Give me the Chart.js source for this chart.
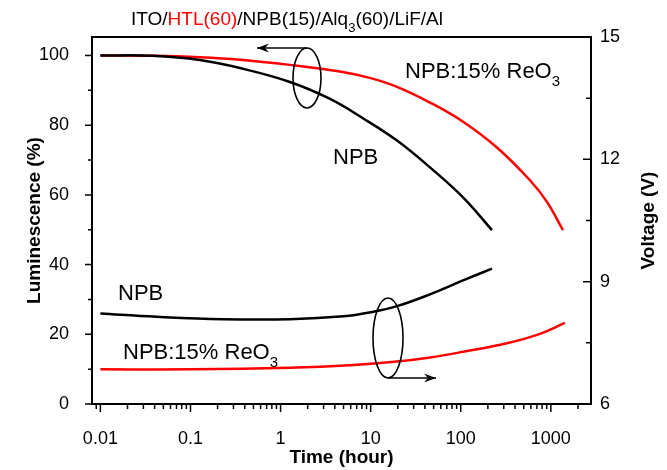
<!DOCTYPE html>
<html>
<head>
<meta charset="utf-8">
<script src="https://cdn.jsdelivr.net/npm/chart.js@4"></script>
<style>
  html, body { margin: 0; background: #fff; }
</style>
</head>
<body>
<canvas id="c" width="667" height="470"></canvas>
<script>
// luminescence (left axis, %) vs time (hour)
const npbLumT  = [0.01, 0.038, 0.127, 0.354, 1.27, 3.5, 8.2, 19.6, 45.5, 106, 222];
const npbLum   = [100, 99.9, 98.7, 96.4, 92.4, 87.6, 82.0, 75.6, 67.9, 59.3, 49.9];
const reoLumT  = [0.01, 0.038, 0.127, 0.354, 1.27, 4.56, 10, 19.6, 45.5, 106, 252, 586, 905, 1362];
const reoLum   = [100, 99.9, 99.5, 98.8, 97.3, 95.4, 93.5, 91.0, 86.5, 81.0, 73.6, 64.2, 58.0, 49.9];

// voltage (right axis, V) vs time (hour)
const npbVoltT = [0.01, 0.042, 0.23, 1.27, 5, 10, 19.6, 45.5, 106, 222];
const npbVolt  = [8.22, 8.14, 8.08, 8.08, 8.15, 8.25, 8.40, 8.69, 9.03, 9.32];
const reoVoltT = [0.01, 0.1, 1.27, 5.9, 19.6, 45.5, 106, 326, 757, 1432];
const reoVolt  = [6.85, 6.85, 6.89, 6.95, 7.04, 7.14, 7.28, 7.49, 7.72, 7.99];

// tick labels
const xTicks     = [0.01, 0.1, 1, 10, 100, 1000];
const lumTicks   = [0, 20, 40, 60, 80, 100];
const lumMinor   = [10, 30, 50, 70, 90];
const voltTicks  = [6, 9, 12, 15];
const voltMinor  = [7.5, 10.5, 13.5];

const FONT = "'Liberation Sans', Arial, sans-serif";
const RED = '#ff0000';

const pts = (xs, ys) => xs.map((x, i) => ({ x, y: ys[i] }));

const lineDs = (label, data, color, axis) => ({
  label, data, borderColor: color, borderWidth: 2.5, pointRadius: 0,
  tension: 0.4, yAxisID: axis, fill: false
});

function arrow(ctx, x0, y0, x1, y1) {
  ctx.beginPath(); ctx.moveTo(x0, y0); ctx.lineTo(x1, y1); ctx.stroke();
  const dir = Math.sign(x1 - x0);
  ctx.beginPath();
  ctx.moveTo(x1, y1);
  ctx.lineTo(x1 - dir * 12, y1 - 4.5);
  ctx.lineTo(x1 - dir * 8, y1);
  ctx.lineTo(x1 - dir * 12, y1 + 4.5);
  ctx.closePath(); ctx.fill();
}

// draws runs of text, some of them as subscripts
function subText(ctx, parts, x, y, size) {
  parts.forEach(([t, col, sub]) => {
    ctx.fillStyle = col;
    ctx.font = (sub ? Math.round(size * 0.7) : size) + 'px ' + FONT;
    ctx.fillText(t, x, sub ? y + size * 0.38 : y);
    x += ctx.measureText(t).width;
  });
}

const decor = {
  id: 'decor',
  afterDatasetsDraw(chart) {
    const { ctx, chartArea: a, scales: { x, y, y1 } } = chart;
    ctx.save();
    ctx.strokeStyle = '#000';
    ctx.fillStyle = '#000';
    ctx.lineWidth = 2;
    ctx.strokeRect(a.left, a.top, a.right - a.left, a.bottom - a.top);

    ctx.lineWidth = 1.5;
    ctx.beginPath();
    // x ticks, downward
    for (let d = -3; d <= 3; d++) {
      for (let m = 1; m <= 9; m++) {
        const v = m * Math.pow(10, d);
        if (v < x.min || v > x.max) continue;
        const px = x.getPixelForValue(v);
        ctx.moveTo(px, a.bottom); ctx.lineTo(px, a.bottom + (m === 1 ? 8 : 5));
      }
    }
    // left ticks, outward
    lumTicks.forEach(v => { const py = y.getPixelForValue(v); ctx.moveTo(a.left, py); ctx.lineTo(a.left - 7, py); });
    lumMinor.forEach(v => { const py = y.getPixelForValue(v); ctx.moveTo(a.left, py); ctx.lineTo(a.left - 4, py); });
    // right ticks, inward
    voltTicks.forEach(v => { const py = y1.getPixelForValue(v); ctx.moveTo(a.right, py); ctx.lineTo(a.right - 8, py); });
    voltMinor.forEach(v => { const py = y1.getPixelForValue(v); ctx.moveTo(a.right, py); ctx.lineTo(a.right - 5, py); });
    ctx.stroke();

    // ellipses with arrows
    ctx.lineWidth = 1.6;
    ctx.beginPath(); ctx.ellipse(307, 78, 14, 30, 0, 0, Math.PI * 2); ctx.stroke();
    arrow(ctx, 307, 48, 257, 48);
    ctx.beginPath(); ctx.ellipse(388, 338, 15, 40, 0, 0, Math.PI * 2); ctx.stroke();
    arrow(ctx, 388, 378, 436, 378);

    // labels
    ctx.textBaseline = 'alphabetic';
    subText(ctx, [['NPB:15% ReO', '#000'], ['3', '#000', true]], 405, 78, 22);
    subText(ctx, [['NPB:15% ReO', '#000'], ['3', '#000', true]], 123, 359, 22);
    subText(ctx, [['NPB', '#000']], 333, 164, 22);
    subText(ctx, [['NPB', '#000']], 118, 300, 22);
    subText(ctx, [['ITO/', '#000'], ['HTL(60)', RED], ['/NPB(15)/Alq', '#000'], ['3', '#000', true], ['(60)/LiF/Al', '#000']], 131, 25, 19);

    // right axis title, reading bottom to top
    ctx.font = 'bold 19px ' + FONT;
    ctx.fillStyle = '#000';
    ctx.translate(649, (a.top + a.bottom) / 2);
    ctx.rotate(-Math.PI / 2);
    ctx.textAlign = 'center'; ctx.textBaseline = 'middle';
    ctx.fillText('Voltage (V)', 0, 0);
    ctx.restore();
  }
};

const tickFont = { family: FONT, size: 18 };

new Chart(document.getElementById('c'), {
  type: 'line',
  data: {
    datasets: [
      lineDs('NPB luminescence', pts(npbLumT, npbLum), '#000', 'y'),
      lineDs('NPB voltage', pts(npbVoltT, npbVolt), '#000', 'y1'),
      lineDs('ReO3 luminescence', pts(reoLumT, reoLum), RED, 'y'),
      lineDs('ReO3 voltage', pts(reoVoltT, reoVolt), RED, 'y1')
    ]
  },
  options: {
    responsive: false,
    animation: false,
    layout: { padding: { top: 37 } },
    plugins: { legend: { display: false }, tooltip: { enabled: false } },
    scales: {
      x: {
        type: 'logarithmic', min: 0.00807, max: 2790,
        afterBuildTicks: s => { s.ticks = xTicks.map(v => ({ value: v })); },
        afterFit: s => { s.height = 66; },
        grid: { display: false }, border: { display: false },
        ticks: { color: '#000', font: tickFont, padding: 16, maxRotation: 0, callback: v => String(v) },
        title: { display: true, text: 'Time (hour)', color: '#000', font: { family: FONT, size: 19, weight: 'bold' }, padding: { bottom: 1 } }
      },
      y: {
        position: 'left', min: 0, max: 105.3,
        afterBuildTicks: s => { s.ticks = lumTicks.map(v => ({ value: v })); },
        afterFit: s => { s.width = 92; },
        grid: { display: false }, border: { display: false },
        ticks: { color: '#000', font: tickFont, padding: 15 },
        title: { display: true, text: 'Luminescence (%)', color: '#000', font: { family: FONT, size: 19, weight: 'bold' }, padding: { top: 23 } }
      },
      y1: {
        position: 'right', min: 6, max: 15,
        afterBuildTicks: s => { s.ticks = voltTicks.map(v => ({ value: v })); },
        afterFit: s => { s.width = 76; },
        grid: { display: false }, border: { display: false },
        ticks: { color: '#000', font: tickFont, padding: 1 }
      }
    }
  },
  plugins: [decor]
});
</script>
</body>
</html>
